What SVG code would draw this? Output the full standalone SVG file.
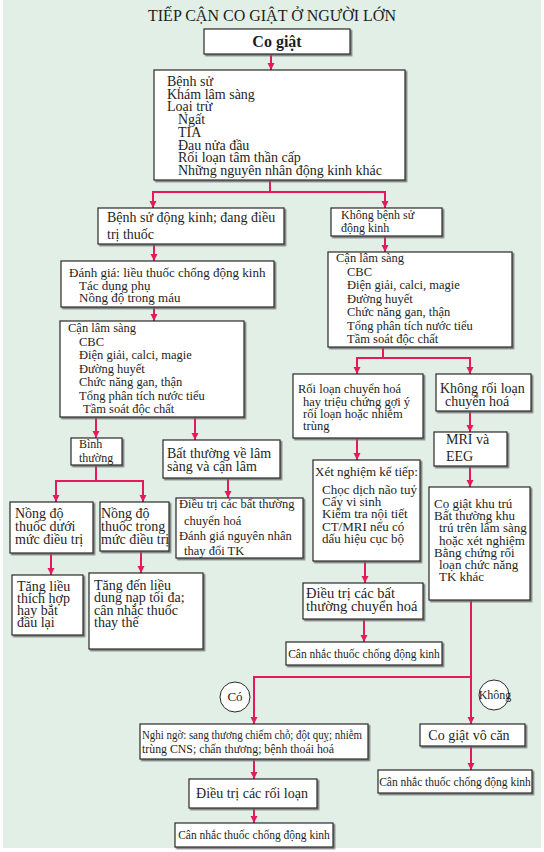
<svg xmlns="http://www.w3.org/2000/svg" width="544" height="852" viewBox="0 0 544 852">
<defs>
<marker id="ah" markerUnits="userSpaceOnUse" markerWidth="8" markerHeight="9" refX="7" refY="4" orient="auto">
<path d="M0,0.5 L7,4 L0,7.5 Z" fill="#e5195e"/>
</marker>
<filter id="sh" x="-10%" y="-10%" width="130%" height="140%">
<feDropShadow dx="1.6" dy="1.6" stdDeviation="0.4" flood-color="#6b6b6b" flood-opacity="0.9"/>
</filter>
<style>
text{font-family:"Liberation Serif","Times New Roman",serif;fill:#1e1e1e}
.b{fill:#fff;stroke:#2a2a2a;stroke-width:1.2;filter:url(#sh)}
.c{fill:none;stroke:#e5195e;stroke-width:2}
.a{marker-end:url(#ah)}
.circ{fill:#fff;stroke:#2a2a2a;stroke-width:1}
.f11{font-size:11.5px}.f12{font-size:12px}.f125{font-size:12.5px}.f13{font-size:13px}.f14{font-size:14px}.f145{font-size:14.5px}
.m{text-anchor:middle}
</style>
</defs>
<rect x="0" y="0" width="544" height="852" fill="#fff"/>
<rect x="3" y="0" width="538" height="848" fill="#e2efe6"/>
<text x="272" y="21" class="m" style="font-size:16px">TIẾP CẬN CO GIẬT Ở NGƯỜI LỚN</text>

<g id="connectors">
<path class="c a" d="M271,54 V70"/>
<path class="c a" d="M270,180 V192 H153 V208"/>
<path class="c a" d="M270,192 H385 V208"/>
<path class="c a" d="M154,244 V261"/>
<path class="c a" d="M154,307 V321"/>
<path class="c a" d="M96,417 V438"/>
<path class="c a" d="M195,417 V440"/>
<path class="c a" d="M96,465 V481 H56 V502"/>
<path class="c a" d="M96,481 H143 V502"/>
<path class="c a" d="M51,553 V575"/>
<path class="c a" d="M141,551 V573"/>
<path class="c a" d="M228,478 V498"/>
<path class="c a" d="M385,236 V252"/>
<path class="c a" d="M383,347 V358 H357 V374"/>
<path class="c a" d="M383,358 H470 V374"/>
<path class="c a" d="M357,438 V460"/>
<path class="c a" d="M365,561 V583"/>
<path class="c a" d="M364,619 V642"/>
<path class="c a" d="M470,411 V432"/>
<path class="c a" d="M470,466 V487"/>
<path class="c a" d="M471,600 V724"/>
<path class="c a" d="M471,677 H254 V724"/>
<path class="c a" d="M254,759 V779"/>
<path class="c a" d="M254,808 V823"/>
<path class="c a" d="M471,746 V770"/>
</g>

<g id="n-cogiat">
<rect class="b" x="204" y="29" width="146" height="25"/>
<text x="277" y="47" class="m" style="font-size:16px;font-weight:bold">Co giật</text>
</g>
<g id="n-benhsu">
<rect class="b" x="154" y="70" width="251" height="110"/>
<text class="f14" x="167" y="86">Bệnh sử</text>
<text class="f14" x="167" y="98.7">Khám lâm sàng</text>
<text class="f14" x="167" y="111.4">Loại trừ</text>
<text class="f14" x="178" y="124">Ngất</text>
<text class="f14" x="178" y="136.8">TIA</text>
<text class="f14" x="178" y="149.5">Đau nửa đầu</text>
<text class="f14" x="178" y="162">Rối loạn tâm thần cấp</text>
<text class="f14" x="178" y="175">Những nguyên nhân động kinh khác</text>
</g>
<g id="n-tiensu">
<rect class="b" x="98" y="208" width="186" height="36"/>
<text class="f14" x="107" y="222">Bệnh sử động kinh; đang điều</text>
<text class="f14" x="107" y="239">trị thuốc</text>
</g>
<g id="n-khongtiensu">
<rect class="b" x="331" y="208" width="111" height="28"/>
<text class="f12" x="341" y="219">Không bệnh sử</text>
<text class="f12" x="341" y="232">động kinh</text>
</g>
<g id="n-danhgia">
<rect class="b" x="61" y="261" width="213" height="46"/>
<text class="f13" x="69" y="277">Đánh giá: liều thuốc chống động kinh</text>
<text class="f13" x="79" y="289.5">Tác dụng phụ</text>
<text class="f13" x="79" y="302">Nồng độ trong máu</text>
</g>
<g id="n-cls-left">
<rect class="b" x="60" y="321" width="184" height="96"/>
<text class="f125" x="68" y="332">Cận lâm sàng</text>
<text class="f125" x="79" y="345.5">CBC</text>
<text class="f125" x="79" y="359">Điện giải, calci, magie</text>
<text class="f125" x="79" y="372.5">Đường huyết</text>
<text class="f125" x="79" y="386">Chức năng gan, thận</text>
<text class="f125" x="79" y="399.5">Tổng phân tích nước tiểu</text>
<text class="f125" x="83" y="413">Tầm soát độc chất</text>
</g>
<g id="n-cls-right">
<rect class="b" x="328" y="252" width="184" height="95"/>
<text class="f125" x="336" y="262">Cận lâm sàng</text>
<text class="f125" x="347" y="275.5">CBC</text>
<text class="f125" x="347" y="289">Điện giải, calci, magie</text>
<text class="f125" x="347" y="302.5">Đường huyết</text>
<text class="f125" x="347" y="316">Chức năng gan, thận</text>
<text class="f125" x="347" y="329.5">Tổng phân tích nước tiểu</text>
<text class="f125" x="347" y="343">Tầm soát độc chất</text>
</g>
<g id="n-binhthuong">
<rect class="b" x="71" y="438" width="51" height="27"/>
<text class="f12" x="79" y="448">Bình</text>
<text class="f12" x="79" y="462">thường</text>
</g>
<g id="n-batthuong">
<rect class="b" x="163" y="440" width="117" height="38"/>
<text class="f14" x="167" y="458">Bất thường về lâm</text>
<text class="f14" x="167" y="471">sàng và cận lâm</text>
</g>
<g id="n-duoi">
<rect class="b" x="10" y="502" width="83" height="51"/>
<text class="f14" x="15" y="518">Nồng độ</text>
<text class="f14" x="15" y="531">thuốc dưới</text>
<text class="f14" x="15" y="544">mức điều trị</text>
</g>
<g id="n-trong">
<rect class="b" x="100" y="502" width="69" height="49"/>
<text class="f14" x="101" y="518">Nồng độ</text>
<text class="f14" x="101" y="531">thuốc trong</text>
<text class="f14" x="101" y="544">mức điều trị</text>
</g>
<g id="n-tanglieu">
<rect class="b" x="12" y="575" width="71" height="60"/>
<text class="f14" x="17" y="591">Tăng liều</text>
<text class="f14" x="17" y="603">thích hợp</text>
<text class="f14" x="17" y="615">hay bắt</text>
<text class="f14" x="17" y="627">đầu lại</text>
</g>
<g id="n-tangden">
<rect class="b" x="89" y="573" width="114" height="76"/>
<text class="f14" x="94" y="590">Tăng đến liều</text>
<text class="f14" x="94" y="602">dung nạp tối đa;</text>
<text class="f14" x="94" y="614.5">cân nhắc thuốc</text>
<text class="f14" x="94" y="627">thay thế</text>
</g>
<g id="n-dieutri-bt">
<rect class="b" x="176" y="498" width="127" height="60"/>
<text class="f125" x="179" y="508">Điều trị các bất thường</text>
<text class="f125" x="184" y="525">chuyển hoá</text>
<text class="f125" x="179" y="540">Đánh giá nguyên nhân</text>
<text class="f125" x="184" y="555">thay đổi TK</text>
</g>
<g id="n-roiloan">
<rect class="b" x="293" y="374" width="130" height="64"/>
<text class="f125" x="298" y="393">Rối loạn chuyển hoá</text>
<text class="f125" x="303" y="406">hay triệu chứng gợi ý</text>
<text class="f125" x="303" y="418">rối loạn hoặc nhiễm</text>
<text class="f125" x="303" y="430">trùng</text>
</g>
<g id="n-khongroiloan">
<rect class="b" x="436" y="374" width="95" height="37"/>
<text class="f14" x="440" y="393">Không rối loạn</text>
<text class="f14" x="445" y="406">chuyển hoá</text>
</g>
<g id="n-mri">
<rect class="b" x="434" y="432" width="73" height="34"/>
<text class="f14" x="446" y="444">MRI và</text>
<text class="f14" x="446" y="461">EEG</text>
</g>
<g id="n-xetnghiem">
<rect class="b" x="313" y="460" width="107" height="101"/>
<text class="f13" x="315" y="476">Xét nghiệm kế tiếp:</text>
<text class="f13" x="322" y="494">Chọc dịch não tuỷ</text>
<text class="f13" x="322" y="506">Cấy vi sinh</text>
<text class="f13" x="322" y="518">Kiểm tra nội tiết</text>
<text class="f13" x="322" y="531">CT/MRI nếu có</text>
<text class="f13" x="322" y="543">dấu hiệu cục bộ</text>
</g>
<g id="n-khutru">
<rect class="b" x="429" y="487" width="101" height="113"/>
<text class="f13" x="434" y="508">Cọ giật khu trú</text>
<text class="f13" x="434" y="520">Bất thường khu</text>
<text class="f13" x="439" y="532">trú trên lâm sàng</text>
<text class="f13" x="439" y="545">hoặc xét nghiệm</text>
<text class="f13" x="434" y="557">Bằng chứng rối</text>
<text class="f13" x="439" y="569">loạn chức năng</text>
<text class="f13" x="439" y="581">TK khác</text>
</g>
<g id="n-dieutri-ch">
<rect class="b" x="303" y="583" width="120" height="36"/>
<text class="f145" x="306" y="598">Điều trị các bất</text>
<text class="f145" x="306" y="611">thường chuyển hoá</text>
</g>
<g id="n-cannhac-mid">
<rect class="b" x="286" y="642" width="156" height="23"/>
<text class="f11 m" x="364" y="658">Cân nhắc thuốc chống động kinh</text>
</g>
<g id="n-co">
<circle class="circ" cx="235" cy="697" r="15"/>
<text class="f13 m" x="235" y="701">Có</text>
</g>
<g id="n-khong">
<circle class="circ" cx="494" cy="695" r="15"/>
<text class="f12 m" x="495" y="699">Không</text>
</g>
<g id="n-nghingo">
<rect class="b" x="140" y="724" width="228" height="35"/>
<text class="f11" x="142" y="739" textLength="220" lengthAdjust="spacingAndGlyphs">Nghi ngờ: sang thương chiếm chỗ; đột quỵ; nhiễm</text>
<text class="f11" x="142" y="753" textLength="192" lengthAdjust="spacingAndGlyphs">trùng CNS; chấn thương; bệnh thoái hoá</text>
</g>
<g id="n-dieutri-rl">
<rect class="b" x="189" y="779" width="128" height="29"/>
<text class="f14 m" x="252" y="798">Điều trị các rối loạn</text>
</g>
<g id="n-cannhac-left">
<rect class="b" x="175" y="823" width="158" height="24"/>
<text class="f11 m" x="254" y="839">Cân nhắc thuốc chống động kinh</text>
</g>
<g id="n-vocan">
<rect class="b" x="420" y="724" width="105" height="22"/>
<text class="f14 m" x="469" y="740">Co giật vô căn</text>
</g>
<g id="n-cannhac-right">
<rect class="b" x="378" y="770" width="154" height="23"/>
<text class="f11 m" x="455" y="786">Cân nhắc thuốc chống động kinh</text>
</g>
</svg>
